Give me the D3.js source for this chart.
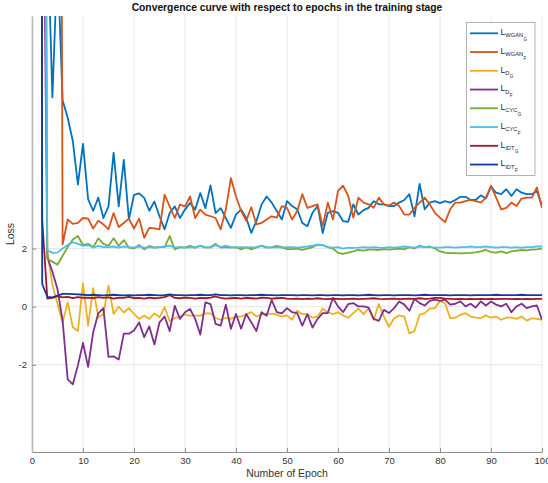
<!DOCTYPE html>
<html>
<head>
<meta charset="utf-8">
<script src="https://cdn.jsdelivr.net/npm/d3@7"></script>
<style>
  body { margin: 0; background: #fff; }
  svg { display: block; font-family: "Liberation Sans", Arial, Helvetica, sans-serif; }
</style>
</head>
<body>
<svg id="chart" width="548" height="483"></svg>
<script>
// epochs on the x axis
const epochs = d3.range(1, 101);
const xTicks = [0, 10, 20, 30, 40, 50, 60, 70, 80, 90, 100];
const yTicks = [-2, 0, 2];

// legend labels: L_{sub_{subsub}}
const subLabels = ['WGAN', 'WGAN', 'D', 'D', 'CYC', 'CYC', 'IDT', 'IDT'];
const subsubLabels = ['G', 'F', 'G', 'F', 'G', 'F', 'G', 'F'];
const colors = ['#0072BD', '#D95319', '#EDB120', '#7E2F8E', '#77AC30', '#4DBEEE', '#A2142F', '#113B99'];

const wganG = [
  150, 60, 13.2, 7.2, 12, 7.1, 6.5, 5.7, 4.2, 5.6,
  3.7, 3.3, 3.75, 3.05, 3.45, 5.3, 3.45, 5.05, 3.0, 3.85,
  3.9, 3.74, 3.3, 3.62, 3.11, 2.66, 3.22, 3.45, 3.05, 3.34,
  3.57, 3.34, 3.91, 3.39, 4.17, 3.22, 3.39, 3.05, 2.71, 3.17,
  3.34, 3.05, 2.54, 2.94, 3.51, 3.79, 3.58, 3.29, 3.0, 3.63,
  3.46, 3.35, 2.88, 2.77, 3.23, 3.46, 2.53, 3.23, 3.29, 3.23,
  2.94, 2.92, 3.52, 3.17, 3.32, 3.4, 3.63, 3.52, 3.52, 3.46,
  3.46, 3.58, 3.67, 3.87, 3.11, 4.22, 3.35, 3.58, 3.63, 3.56,
  3.63, 3.58, 3.67, 3.78, 3.78, 3.67, 3.67, 3.83, 3.72, 4.13,
  3.92, 3.87, 4.04, 3.81, 4.04, 3.92, 3.87, 3.87, 3.98, 3.46
];
const wganF = [
  150, 120, 100, 80, 60, 2.14, 3.0, 2.85, 2.88, 3.05,
  3.03, 2.69, 2.96, 2.83, 2.66, 3.22, 2.74, 2.88, 3.03, 2.69,
  3.03, 2.37, 2.71, 2.69, 2.66, 3.85, 3.45, 3.05, 3.51, 3.45,
  3.79, 3.05, 3.34, 3.17, 3.11, 3.05, 2.66, 3.34, 4.42, 3.79,
  3.3, 2.96, 3.42, 2.83, 2.88, 3.0, 3.11, 3.06, 3.46, 3.4,
  3.0, 3.29, 3.87, 3.4, 3.46, 3.52, 2.77, 3.58, 3.0, 3.98,
  4.16, 3.81, 3.06, 3.75, 3.58, 3.52, 3.4, 3.75, 3.52, 3.48,
  3.58, 3.46, 3.17, 3.17, 3.4, 3.58, 3.75, 3.52, 3.23, 3.06,
  2.91, 3.35, 3.58, 3.58, 3.63, 3.67, 3.63, 3.58, 3.75, 4.16,
  3.75, 3.35, 3.4, 3.58, 3.46, 3.72, 3.75, 3.75, 4.1, 3.4
];
const dG = [
  150, 60, 1.9, 0.75, 0.1, -0.55, 0.15, -0.71, -0.84, 0.8,
  -0.65, 0.64, -0.37, -0.25, 0.72, -0.25, 0.0, -0.2, -0.05, -0.25,
  -0.42, -0.31, -0.42, -0.23, -0.37, -0.02, -0.5, -0.39, -0.34, -0.27,
  -0.31, -0.31, -0.31, -0.23, -0.23, -0.39, -0.45, -0.39, -0.42, -0.34,
  -0.34, -0.27, -0.19, -0.34, -0.27, -0.25, -0.25, -0.27, -0.34, -0.3,
  -0.45, -0.14, -0.26, -0.26, -0.38, -0.34, -0.07, -0.19, -0.26, -0.19,
  -0.3, -0.38, -0.22, -0.07, -0.26, -0.07, -0.45, 0.09, -0.34, -0.69,
  -0.4, -0.3, -0.34, -0.92, -0.84, -0.28, -0.22, -0.07, -0.05, 0.2,
  0.12, -0.4, -0.38, -0.28, -0.22, -0.34, -0.38, -0.4, -0.3, -0.38,
  -0.34, -0.45, -0.38, -0.38, -0.42, -0.34, -0.48, -0.4, -0.42, -0.45
];
const dF = [
  150, 20, 1.7, 1.2, 0.6, -0.48, -2.5, -2.67, -2.02, -1.25,
  -2.07, -0.88, -0.23, -0.05, -1.73, -1.71, -1.82, -0.93, -0.93, -0.82,
  -0.54, -1.05, -0.68, -1.3, -0.54, -0.34, -0.84, 0.03, -0.42, -0.19,
  -0.08, -0.42, -0.96, 0.15, 0.09, -0.59, -0.65, 0.07, -0.76, -0.25,
  -0.76, -0.25, -0.54, -0.84, -0.19, -0.31, 0.23, -0.19, -0.23, -0.05,
  -0.19, -0.22, -0.65, -0.26, -0.72, -0.42, -0.22, -0.22, 0.3, 0.01,
  -0.19, 0.09, 0.12, 0.01, 0.01, -0.03, -0.42, -0.49, -0.11, -0.22,
  -0.05, 0.18, 0.07, -0.14, 0.27, 0.12, 0.04, 0.2, 0.24, 0.2,
  0.24, 0.07, 0.1, 0.18, 0.01, 0.1, -0.03, 0.18, 0.04, 0.18,
  0.07, 0.01, 0.1, -0.19, 0.01, 0.1, -0.05, 0.01, 0.04, -0.45
];
const cycG = [
  150, 40, 1.65, 1.55, 1.44, 1.75, 2.05, 2.31, 2.43, 2.12,
  2.16, 2.05, 2.35, 2.16, 2.09, 2.35, 2.09, 2.29, 2.03, 2.0,
  2.12, 1.97, 2.09, 2.03, 2.05, 2.05, 2.43, 1.97, 2.05, 2.03,
  2.09, 2.03, 2.09, 2.03, 2.05, 2.16, 2.03, 2.05, 2.03, 2.05,
  1.97, 2.05, 1.97, 2.05, 2.09, 2.03, 2.05, 2.09, 2.05, 1.98,
  1.98, 2.0, 1.95, 2.0, 2.05, 2.13, 2.12, 2.05, 2.0, 1.85,
  1.82, 1.86, 1.9, 1.95, 1.93, 1.96, 1.96, 1.95, 1.98, 1.96,
  1.98, 2.0, 1.97, 2.05, 2.0, 2.1, 2.05, 2.07, 2.0, 1.9,
  1.86, 1.84, 1.84, 1.83, 1.84, 1.85, 1.87, 1.9, 1.95, 1.88,
  1.86, 1.9, 1.84, 1.9, 1.93, 1.95, 1.94, 1.96, 1.97, 2.0
];
const cycF = [
  150, 30, 1.94, 1.85, 1.86, 2.0, 2.12, 2.22, 2.16, 2.09,
  2.12, 2.03, 2.09, 2.05, 2.05, 2.07, 2.03, 2.07, 2.05, 2.03,
  2.07, 2.03, 2.05, 2.03, 2.05, 2.07, 2.1, 2.03, 2.05, 2.03,
  2.05, 2.03, 2.1, 2.05, 2.03, 2.12, 2.05, 2.1, 2.05, 2.03,
  2.05, 2.03, 2.05, 2.03, 2.1, 2.05, 2.03, 2.05, 2.03, 2.05,
  2.05, 2.03, 2.05, 2.07, 2.1, 2.13, 2.12, 2.05, 2.03, 2.05,
  2.0, 2.03, 2.02, 2.03, 2.05, 2.03, 2.05, 2.03, 2.02, 2.05,
  2.03, 2.05, 2.07, 2.05, 2.03, 2.07, 2.05, 2.05, 2.03, 2.03,
  2.05, 2.05, 2.03, 2.05, 2.05, 2.07, 2.05, 2.05, 2.07, 2.05,
  2.03, 2.05, 2.05, 2.03, 2.05, 2.03, 2.05, 2.05, 2.07, 2.07
];
const idtG = [
  150, 3.0, 0.28, 0.3, 0.36, 0.32, 0.34, 0.29, 0.33, 0.3,
  0.31, 0.29, 0.33, 0.3, 0.32, 0.28, 0.31, 0.3, 0.34, 0.29,
  0.3, 0.28, 0.31, 0.29, 0.3, 0.33, 0.4, 0.3, 0.29, 0.31,
  0.3, 0.28, 0.3, 0.29, 0.31, 0.35, 0.3, 0.28, 0.29, 0.3,
  0.28, 0.3, 0.29, 0.28, 0.31, 0.3, 0.28, 0.29, 0.3, 0.28,
  0.27, 0.28, 0.26, 0.28, 0.27, 0.29, 0.27, 0.26, 0.28, 0.27,
  0.26, 0.27, 0.28, 0.26, 0.27, 0.28, 0.29, 0.27, 0.26, 0.27,
  0.28, 0.26, 0.27, 0.28, 0.27, 0.29, 0.27, 0.28, 0.3, 0.3,
  0.28, 0.27, 0.26, 0.27, 0.26, 0.27, 0.26, 0.27, 0.26, 0.27,
  0.26, 0.27, 0.27, 0.26, 0.27, 0.26, 0.27, 0.26, 0.27, 0.27
];
const idtF = [
  150, 0.78, 0.34, 0.32, 0.38, 0.44, 0.44, 0.43, 0.42, 0.41,
  0.4, 0.41, 0.4, 0.39, 0.4, 0.41, 0.4, 0.39, 0.4, 0.39,
  0.4, 0.4, 0.41, 0.4, 0.39, 0.4, 0.42, 0.4, 0.4, 0.39,
  0.4, 0.4, 0.41, 0.4, 0.4, 0.42, 0.4, 0.4, 0.39, 0.4,
  0.4, 0.39, 0.4, 0.4, 0.41, 0.4, 0.4, 0.39, 0.4, 0.4,
  0.4, 0.39, 0.4, 0.4, 0.39, 0.4, 0.4, 0.39, 0.4, 0.4,
  0.39, 0.4, 0.4, 0.39, 0.4, 0.41, 0.4, 0.39, 0.4, 0.4,
  0.39, 0.4, 0.4, 0.4, 0.39, 0.4, 0.41, 0.4, 0.4, 0.4,
  0.4, 0.39, 0.4, 0.4, 0.4, 0.39, 0.4, 0.4, 0.4, 0.4,
  0.41, 0.4, 0.4, 0.4, 0.4, 0.41, 0.4, 0.4, 0.4, 0.4
];

const seriesValues = [wganG, wganF, dG, dF, cycG, cycF, idtG, idtF];
const series = seriesValues.map((values, i) => ({
  values,
  color: colors[i],
  sub: subLabels[i],
  subsub: subsubLabels[i],
}));

const plotLeft = 32, plotRight = 542, plotTop = 16, plotBottom = 452;
const svg = d3.select('#chart');

const x = d3.scaleLinear().domain([0, 100]).range([plotLeft, plotRight]);
const y = d3.scaleLinear().domain([-5, 10]).range([plotBottom, plotTop]);

// Grid
svg.append('g')
  .selectAll('line')
  .data(xTicks)
  .join('line')
  .attr('x1', d => x(d)).attr('x2', d => x(d))
  .attr('y1', plotTop).attr('y2', plotBottom)
  .attr('stroke', '#e6e6e6');
svg.append('g')
  .selectAll('line')
  .data(yTicks)
  .join('line')
  .attr('x1', plotLeft).attr('x2', plotRight)
  .attr('y1', d => y(d)).attr('y2', d => y(d))
  .attr('stroke', '#e6e6e6');

// Clip
svg.append('defs').append('clipPath').attr('id', 'plotClip')
  .append('rect')
  .attr('x', plotLeft).attr('y', plotTop)
  .attr('width', plotRight - plotLeft).attr('height', plotBottom - plotTop);

// Lines
const line = d3.line()
  .x((d, i) => x(epochs[i]))
  .y(d => y(d));

svg.append('g')
  .attr('clip-path', 'url(#plotClip)')
  .selectAll('path')
  .data(series)
  .join('path')
  .attr('d', d => line(d.values))
  .attr('fill', 'none')
  .attr('stroke', d => d.color)
  .attr('stroke-width', 1.8)
  .attr('stroke-linejoin', 'round');

// Axes
const xAxis = svg.append('g')
  .attr('transform', `translate(0,${plotBottom})`)
  .call(d3.axisBottom(x).tickValues(xTicks).tickFormat(d => String(d))
    .tickSizeInner(-4).tickSizeOuter(0).tickPadding(5));
const yAxis = svg.append('g')
  .attr('transform', `translate(${plotLeft},0)`)
  .call(d3.axisLeft(y).tickValues(yTicks).tickFormat(d => String(d))
    .tickSizeInner(-4).tickSizeOuter(0).tickPadding(5));

[xAxis, yAxis].forEach(a => {
  a.selectAll('text').attr('fill', '#333').attr('font-size', 9.5)
    .attr('font-family', '"Liberation Sans", Arial, sans-serif');
  a.selectAll('.tick line').attr('stroke', '#8c8c8c');
});
xAxis.select('.domain').attr('stroke', '#8c8c8c');
yAxis.select('.domain').attr('stroke', '#b8b8b8').attr('stroke-width', 1.5);

// Title and labels
svg.append('text')
  .attr('x', (plotLeft + plotRight) / 2).attr('y', 11)
  .attr('text-anchor', 'middle')
  .attr('font-size', 10.3).attr('font-weight', 'bold').attr('fill', '#111')
  .text('Convergence curve with respect to epochs in the training stage');

svg.append('text')
  .attr('x', (plotLeft + plotRight) / 2).attr('y', 477)
  .attr('text-anchor', 'middle')
  .attr('font-size', 10.5).attr('fill', '#333')
  .text('Number of Epoch');

svg.append('text')
  .attr('transform', `translate(14,${(plotTop + plotBottom) / 2}) rotate(-90)`)
  .attr('text-anchor', 'middle')
  .attr('font-size', 10.5).attr('fill', '#333')
  .text('Loss');

// Legend
const legend = svg.append('g');
legend.append('rect')
  .attr('x', 466.5).attr('y', 22.5)
  .attr('width', 68.5).attr('height', 153)
  .attr('fill', '#fff').attr('stroke', '#a0a0a0').attr('stroke-width', 0.8);

series.forEach((s, i) => {
  const ry = 33.3 + i * 18.75;
  legend.append('line')
    .attr('x1', 470).attr('x2', 498).attr('y1', ry).attr('y2', ry)
    .attr('stroke', s.color).attr('stroke-width', 1.8);
  const t1 = legend.append('text')
    .attr('x', 500.5).attr('y', ry + 1.8)
    .attr('font-size', 8.5).attr('fill', '#262626').text('L');
  const w1 = t1.node().getComputedTextLength();
  const t2 = legend.append('text')
    .attr('x', 500.5 + w1).attr('y', ry + 4)
    .attr('font-size', 5.8).attr('fill', '#262626').text(s.sub);
  const w2 = t2.node().getComputedTextLength();
  legend.append('text')
    .attr('x', 500.8 + w1 + w2).attr('y', ry + 7.5)
    .attr('font-size', 4.6).attr('fill', '#262626').text(s.subsub);
});
</script>
</body>
</html>
